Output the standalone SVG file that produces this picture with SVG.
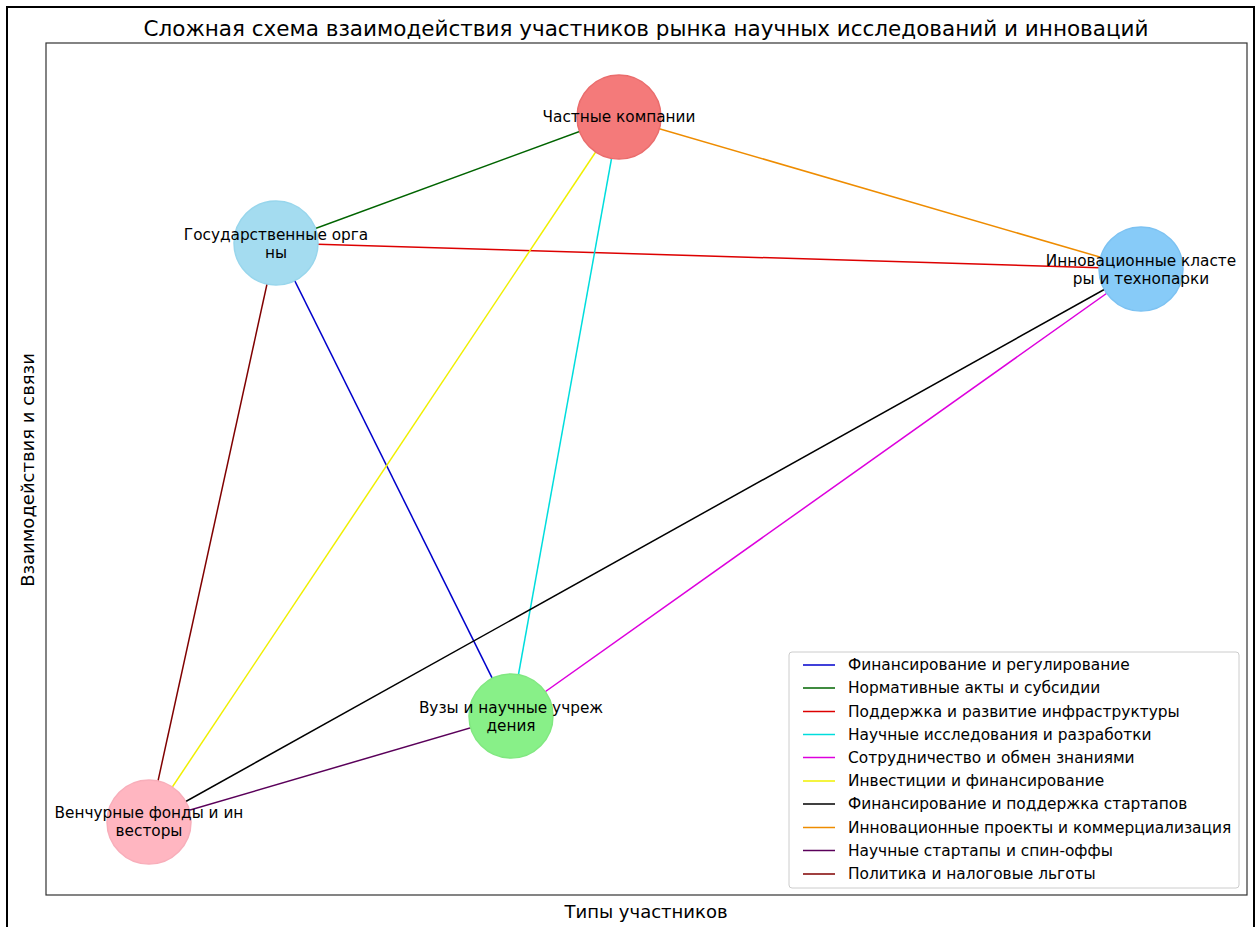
<svg xmlns="http://www.w3.org/2000/svg" width="1257" height="927" viewBox="0 0 1257 927">
<style>
text{font-family:"DejaVu Sans","Noto Sans",sans-serif;fill:#000}
.lbl{font-size:15.3px;text-anchor:middle}
.leg{font-size:15.4px}
.edge{stroke-width:1.5;fill:none}
.node{stroke-width:1.5}
</style>
<rect x="0" y="0" width="1257" height="927" fill="#fff"/>
<rect x="7" y="7" width="1247" height="940" fill="none" stroke="#000" stroke-width="2"/>
<rect x="46" y="43" width="1201" height="852" fill="#fff" stroke="#333" stroke-width="1.2"/>
<text x="646" y="36" font-size="21.5" text-anchor="middle">Сложная схема взаимодействия участников рынка научных исследований и инноваций</text>
<text x="646" y="918" font-size="18" text-anchor="middle">Типы участников</text>
<text transform="translate(34,470) rotate(-90)" font-size="18" text-anchor="middle">Взаимодействия и связи</text>
<g id="connectors">
<line class="edge" x1="276" y1="243" x2="511" y2="716" stroke="#0000cc"/>
<line class="edge" x1="276" y1="243" x2="619" y2="117" stroke="#006400"/>
<line class="edge" x1="276" y1="243" x2="1141" y2="269" stroke="#dd0000"/>
<line class="edge" x1="619" y1="117" x2="511" y2="716" stroke="#00dddd"/>
<line class="edge" x1="511" y1="716" x2="1141" y2="269" stroke="#dd00dd"/>
<line class="edge" x1="619" y1="117" x2="149" y2="822" stroke="#f0f000"/>
<line class="edge" x1="149" y1="822" x2="1141" y2="269" stroke="#000"/>
<line class="edge" x1="619" y1="117" x2="1141" y2="269" stroke="#ee8c00"/>
<line class="edge" x1="511" y1="716" x2="149" y2="822" stroke="#5a005a"/>
<line class="edge" x1="276" y1="243" x2="149" y2="822" stroke="#800000"/>
</g>
<g id="node-private">
<circle class="node" cx="619" cy="117" r="42" fill="#f47a7a" stroke="#ea6c6c"/>
<text class="lbl" x="619" y="122">Частные компании</text>
</g>
<g id="node-gov">
<circle class="node" cx="276" cy="243" r="42" fill="#a4dcf0" stroke="#98d6ec"/>
<text class="lbl" x="276" y="240">Государственные орга</text>
<text class="lbl" x="276" y="258">ны</text>
</g>
<g id="node-clusters">
<circle class="node" cx="1141" cy="269" r="42" fill="#87cbf8" stroke="#7cc2f2"/>
<text class="lbl" x="1141" y="266">Инновационные класте</text>
<text class="lbl" x="1141" y="284">ры и технопарки</text>
</g>
<g id="node-vuzy">
<circle class="node" cx="511" cy="716" r="42" fill="#88f088" stroke="#80e880"/>
<text class="lbl" x="511" y="713">Вузы и научные учреж</text>
<text class="lbl" x="511" y="731">дения</text>
</g>
<g id="node-venture">
<circle class="node" cx="149" cy="822" r="42" fill="#ffb6c1" stroke="#f8aeba"/>
<text class="lbl" x="149" y="818">Венчурные фонды и ин</text>
<text class="lbl" x="149" y="836">весторы</text>
</g>
<g id="legend">
<rect x="789" y="652" width="450" height="236" rx="3" fill="#fff" fill-opacity="0.85" stroke="#ccc"/>
<g class="edge">
<line x1="803" y1="665" x2="835" y2="665" stroke="#0000cc"/>
<line x1="803" y1="688" x2="835" y2="688" stroke="#006400"/>
<line x1="803" y1="711.5" x2="835" y2="711.5" stroke="#dd0000"/>
<line x1="803" y1="734.5" x2="835" y2="734.5" stroke="#00dddd"/>
<line x1="803" y1="757.5" x2="835" y2="757.5" stroke="#dd00dd"/>
<line x1="803" y1="781" x2="835" y2="781" stroke="#f0f000"/>
<line x1="803" y1="804" x2="835" y2="804" stroke="#000"/>
<line x1="803" y1="827.5" x2="835" y2="827.5" stroke="#ee8c00"/>
<line x1="803" y1="850.5" x2="835" y2="850.5" stroke="#5a005a"/>
<line x1="803" y1="874" x2="835" y2="874" stroke="#800000"/>
</g>
<text class="leg" x="848" y="670">Финансирование и регулирование</text>
<text class="leg" x="848" y="693">Нормативные акты и субсидии</text>
<text class="leg" x="848" y="716.5">Поддержка и развитие инфраструктуры</text>
<text class="leg" x="848" y="739.5">Научные исследования и разработки</text>
<text class="leg" x="848" y="762.5">Сотрудничество и обмен знаниями</text>
<text class="leg" x="848" y="786">Инвестиции и финансирование</text>
<text class="leg" x="848" y="809">Финансирование и поддержка стартапов</text>
<text class="leg" x="848" y="832.5">Инновационные проекты и коммерциализация</text>
<text class="leg" x="848" y="855.5">Научные стартапы и спин-оффы</text>
<text class="leg" x="848" y="879">Политика и налоговые льготы</text>
</g>
</svg>
